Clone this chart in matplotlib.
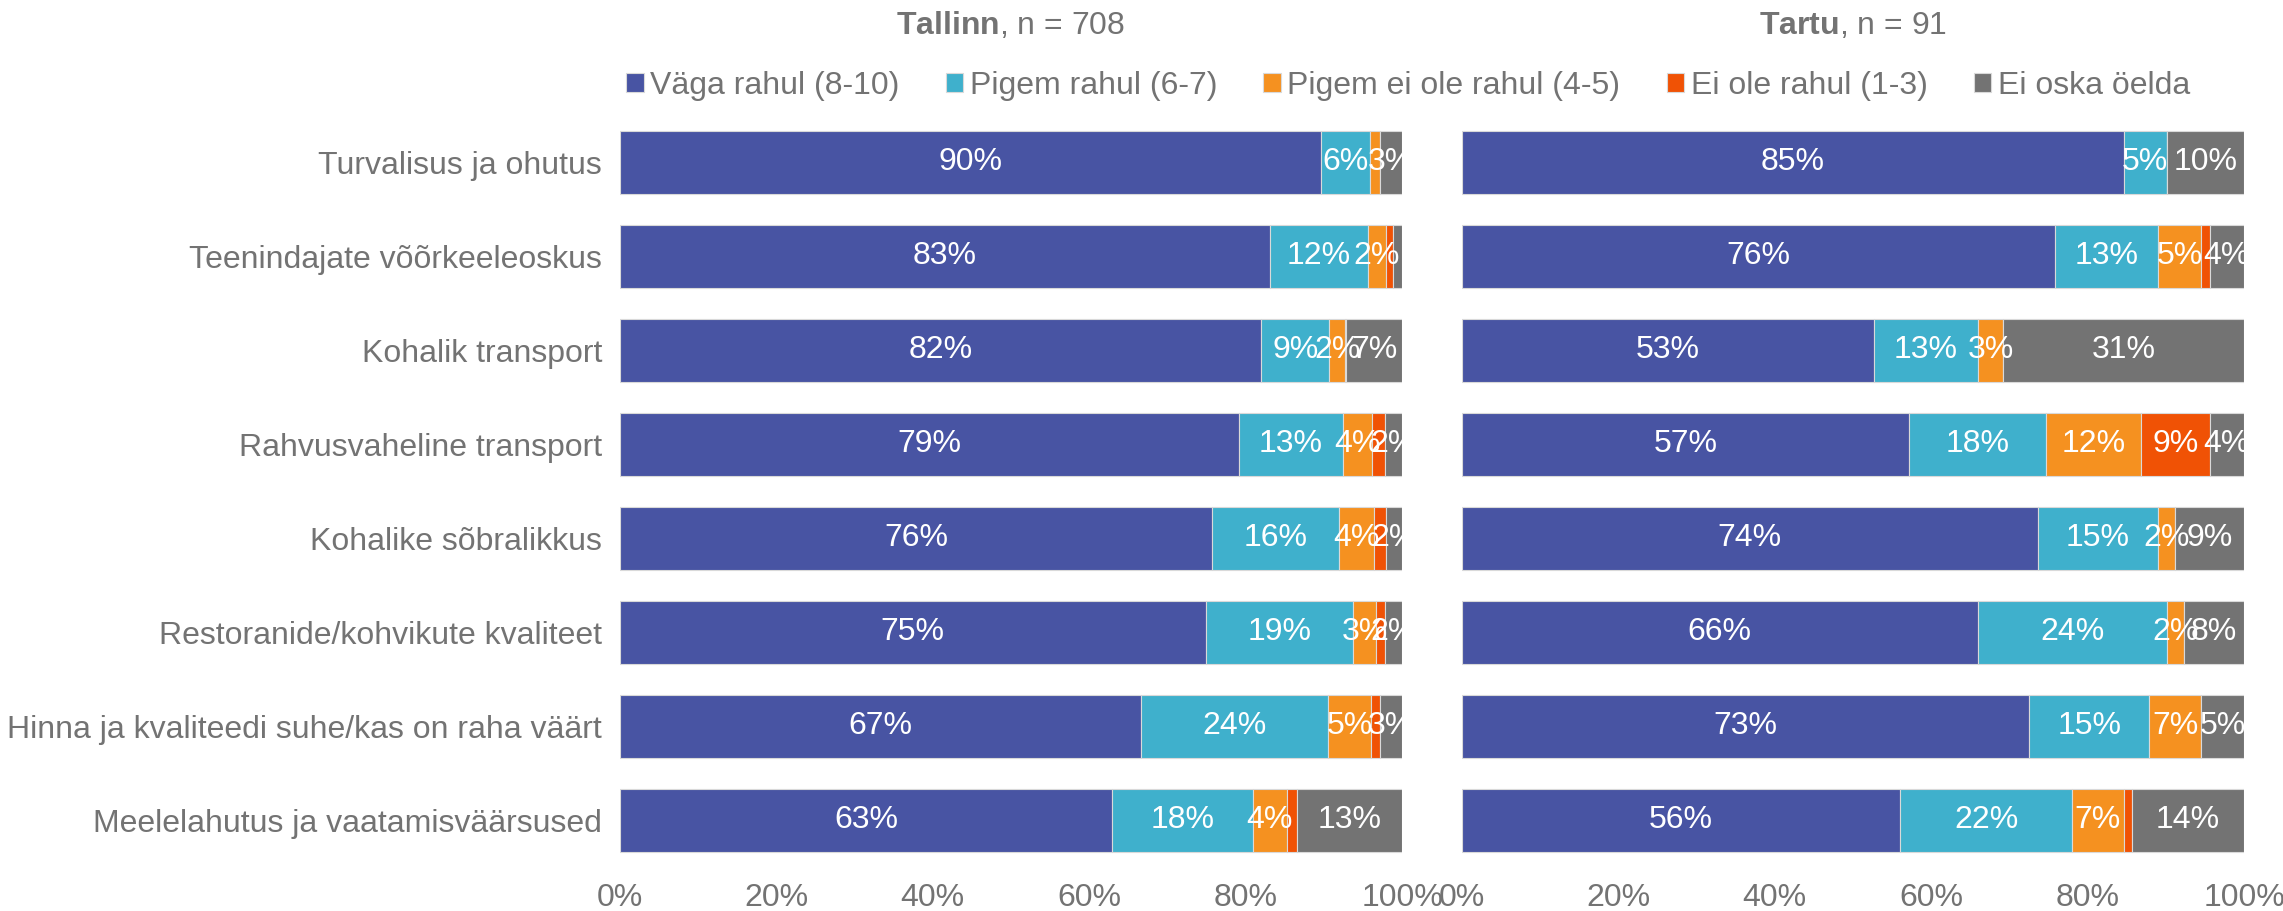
import matplotlib.pyplot as plt
import numpy as np

plt.rcParams['font.family'] = ['Liberation Sans', 'DejaVu Sans']
plt.rcParams['mathtext.fontset'] = 'custom'
plt.rcParams['mathtext.rm'] = 'Liberation Sans'
plt.rcParams['mathtext.bf'] = 'Liberation Sans:bold'

categories = ['Turvalisus ja ohutus', 'Teenindajate võõrkeeleoskus', 'Kohalik transport',
              'Rahvusvaheline transport', 'Kohalike sõbralikkus',
              'Restoranide/kohvikute kvaliteet', 'Hinna ja kvaliteedi suhe/kas on raha väärt',
              'Meelelahutus ja vaatamisväärsused']
series = ['Väga rahul (8-10)', 'Pigem rahul (6-7)', 'Pigem ei ole rahul (4-5)',
          'Ei ole rahul (1-3)', 'Ei oska öelda']
colors = ['#4854a3', '#3fb0cc', '#f59120', '#f05205', '#737373']
ticks = [0, 20, 40, 60, 80, 100]

# Tallinn, percent of respondents (n = 708)
tallinn_vaga = [89.6, 83.1, 82.0, 79.2, 75.7, 74.9, 66.6, 62.9]
tallinn_pigem = [6.3, 12.5, 8.7, 13.2, 16.3, 18.8, 24.0, 18.0]
tallinn_pigem_ei = [1.3, 2.4, 2.0, 3.7, 4.4, 3.0, 5.4, 4.4]
tallinn_ei = [0.0, 0.8, 0.2, 1.7, 1.6, 1.1, 1.2, 1.3]
tallinn_ei_oska = [2.8, 1.2, 7.1, 2.2, 2.0, 2.2, 2.8, 13.4]

# Tartu, respondent counts (n = 91)
tartu_n = 91
tartu_vaga = [77, 69, 48, 52, 67, 60, 66, 51]
tartu_pigem = [5, 12, 12, 16, 14, 22, 14, 20]
tartu_pigem_ei = [0, 5, 3, 11, 2, 2, 6, 6]
tartu_ei = [0, 1, 0, 8, 0, 0, 0, 1]
tartu_ei_oska = [9, 4, 28, 4, 8, 7, 5, 13]

txt = '#737373'
fs = 23

tallinn = np.array([tallinn_vaga, tallinn_pigem, tallinn_pigem_ei, tallinn_ei, tallinn_ei_oska])
tartu = np.array([tartu_vaga, tartu_pigem, tartu_pigem_ei, tartu_ei, tartu_ei_oska]) / tartu_n * 100

W, H = 2283, 911
fig = plt.figure(figsize=(W / 100, H / 100), dpi=100)
ax1 = fig.add_axes([620 / W, 1 - 867.5 / H, 782 / W, 752 / H])
ax2 = fig.add_axes([1462 / W, 1 - 867.5 / H, 782 / W, 752 / H])

y = np.arange(len(categories))


def draw(ax, data):
    left = np.zeros(len(categories))
    for k in range(len(series)):
        ax.barh(y, data[k], left=left, height=0.67, color=colors[k],
                edgecolor='#d9d9d9', linewidth=0.8, label=series[k])
        for i in range(len(categories)):
            v = data[k][i]
            if v >= 1.95:
                ax.text(left[i] + v / 2, y[i], f"{v:.0f}%", ha='center', va='center',
                        color='white', fontsize=fs, clip_on=True)
        left += data[k]
    ax.set_xlim(0, 100)
    ax.set_ylim(len(categories) - 0.5, -0.5)
    ax.set_xticks(ticks)
    ax.set_xticklabels([f"{t}%" for t in ticks])
    for s in ax.spines.values():
        s.set_visible(False)
    ax.tick_params(axis='both', length=0, labelsize=fs, labelcolor=txt)
    ax.tick_params(axis='x', pad=11)


draw(ax1, tallinn)
draw(ax2, tartu)
ax1.set_yticks(y)
ax1.set_yticklabels(categories)
ax1.tick_params(axis='y', pad=13)
ax2.set_yticks([])

fig.text((620 + 782 / 2) / W, 1 - 26 / H, r"$\bf{Tallinn}$, n = 708", ha='center', va='center',
         fontsize=fs, color=txt)
fig.text((1462 + 782 / 2) / W, 1 - 26 / H, r"$\bf{Tartu}$, n = 91", ha='center', va='center',
         fontsize=fs, color=txt)

handles, labels = ax1.get_legend_handles_labels()
fig.legend(handles, labels, loc='center', bbox_to_anchor=(1408 / W, 1 - 86 / H), ncol=5,
           frameon=False, fontsize=fs, labelcolor=txt, handlelength=0.55, handleheight=0.55,
           handletextpad=0.2, columnspacing=1.45)

fig.savefig('out.png', dpi=100)
